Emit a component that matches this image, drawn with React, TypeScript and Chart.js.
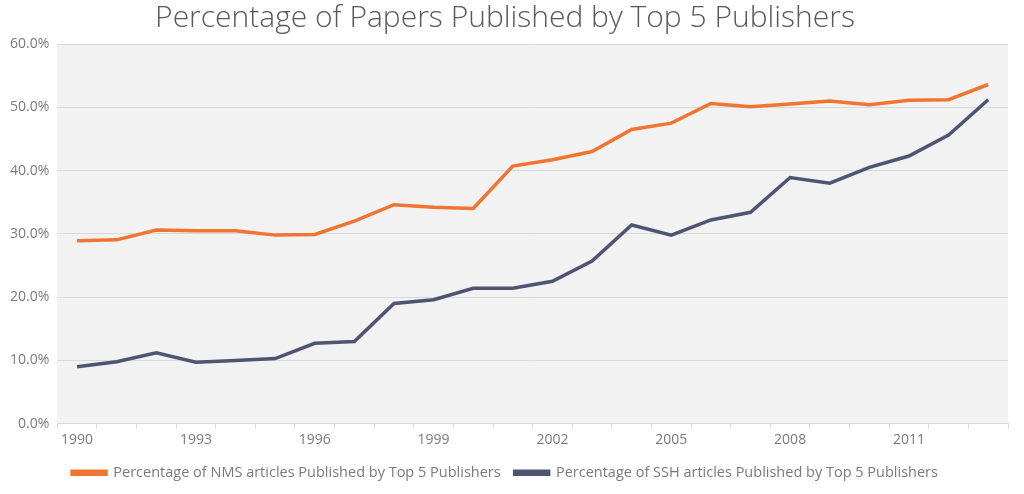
import React, {useEffect, useRef} from 'react';
import {Chart, registerables} from 'chart.js';

Chart.register(...registerables);

const years = ['1990', '1991', '1992', '1993', '1994', '1995', '1996', '1997', '1998', '1999', '2000', '2001',
  '2002', '2003', '2004', '2005', '2006', '2007', '2008', '2009', '2010', '2011', '2012', '2013'];
const nmsShare = [28.9, 29.05, 30.6, 30.5, 30.5, 29.8, 29.9, 32.0, 34.6, 34.2, 34.0, 40.7,
  41.7, 43.0, 46.5, 47.5, 50.6, 50.1, 50.5, 51.0, 50.4, 51.1, 51.2, 53.6];
const sshShare = [9.0, 9.8, 11.2, 9.7, 10.0, 10.3, 12.7, 13.0, 19.0, 19.6, 21.4, 21.4,
  22.5, 25.7, 31.4, 29.8, 32.2, 33.4, 38.9, 38.0, 40.5, 42.3, 45.6, 51.2];
const yTicks = [0, 10, 20, 30, 40, 50, 60];

const FONT = "'Open Sans', 'Lato', sans-serif";
const TEXT = '#7a7a7a';

const plotBackground = {
  id: 'plotBackground',
  beforeDraw(chart: Chart) {
    const {ctx, chartArea} = chart;
    ctx.save();
    ctx.fillStyle = '#f2f2f2';
    ctx.fillRect(chartArea.left, chartArea.top, chartArea.right - chartArea.left, chartArea.bottom - chartArea.top);
    ctx.restore();
  }
};

function PublishersChart() {
  const canvasRef = useRef<HTMLCanvasElement>(null);

  useEffect(() => {
    document.body.style.margin = '0';
    if (!canvasRef.current) return;
    const chart = new Chart(canvasRef.current, {
      type: 'line',
      data: {
        labels: years,
        datasets: [
          {
            label: 'Percentage of NMS articles Published by Top 5 Publishers',
            data: nmsShare,
            borderColor: '#f07530',
            backgroundColor: '#f07530',
            borderWidth: 3.5,
            pointRadius: 0,
            tension: 0,
          },
          {
            label: 'Percentage of SSH articles Published by Top 5 Publishers',
            data: sshShare,
            borderColor: '#4f5473',
            backgroundColor: '#4f5473',
            borderWidth: 3.5,
            pointRadius: 0,
            tension: 0,
          },
        ],
      },
      options: {
        animation: false,
        responsive: false,
        layout: {padding: {left: 2, right: 16, top: 0, bottom: 4}},
        plugins: {
          title: {
            display: true,
            text: 'Percentage of Papers Published by Top 5 Publishers',
            color: '#595959',
            font: {family: FONT, size: 30, weight: 300},
            padding: {top: 0, bottom: 8},
          },
          legend: {
            position: 'bottom',
            labels: {
              color: TEXT,
              font: {family: FONT, size: 14.5},
              boxWidth: 34,
              boxHeight: 3,
              padding: 14,
            },
          },
          tooltip: {enabled: false},
        },
        scales: {
          x: {
            offset: true,
            grid: {
              offset: true,
              drawOnChartArea: false,
              drawTicks: true,
              tickLength: 5,
              color: '#d9d9d9',
            },
            border: {color: '#d9d9d9'},
            ticks: {
              autoSkip: false,
              maxRotation: 0,
              color: TEXT,
              font: {family: FONT, size: 14},
              padding: 3,
              callback: (_v, i) => (i % 3 === 0 ? years[i] : ''),
            },
          },
          y: {
            min: 0,
            max: 60,
            afterBuildTicks: (axis) => {
              axis.ticks = yTicks.map((v) => ({value: v}));
            },
            grid: {color: '#d9d9d9', drawTicks: false},
            border: {display: false},
            ticks: {
              color: TEXT,
              font: {family: FONT, size: 14},
              padding: 8,
              callback: (v) => Number(v).toFixed(1) + '%',
            },
          },
        },
      },
      plugins: [plotBackground],
    });
    return () => chart.destroy();
  }, []);

  return <canvas ref={canvasRef} width={1024} height={494} style={{display: 'block'}}/>;
}

export default function App() {
  return <PublishersChart/>;
}
